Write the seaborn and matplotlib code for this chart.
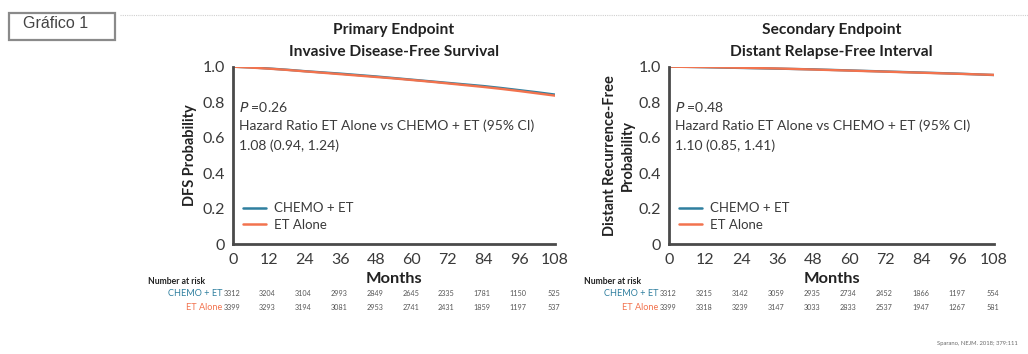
import numpy as np
import pandas as pd
import matplotlib
matplotlib.use("Agg")
import matplotlib.pyplot as plt
import matplotlib.transforms as mtransforms
from matplotlib.patches import Rectangle
from matplotlib.lines import Line2D
import seaborn as sns

# ---- data ----
months = [0, 6, 12, 18, 24, 30, 36, 42, 48, 54, 60, 66, 72, 78, 84, 90, 96, 102, 108]
dfs_chemo = [1.0, 0.996, 0.990, 0.983, 0.975, 0.968, 0.961, 0.953, 0.945, 0.936,
             0.927, 0.918, 0.909, 0.900, 0.891, 0.880, 0.868, 0.856, 0.843]
dfs_et = [1.0, 0.995, 0.989, 0.982, 0.974, 0.966, 0.958, 0.950, 0.942, 0.934,
          0.925, 0.916, 0.906, 0.896, 0.886, 0.875, 0.863, 0.850, 0.837]
drfi_chemo = [1.0, 0.999, 0.997, 0.995, 0.993, 0.991, 0.989, 0.987, 0.985, 0.982,
              0.979, 0.976, 0.973, 0.970, 0.967, 0.964, 0.961, 0.957, 0.953]
drfi_et = [1.0, 0.999, 0.998, 0.996, 0.994, 0.992, 0.990, 0.987, 0.984, 0.981,
           0.978, 0.975, 0.972, 0.969, 0.966, 0.963, 0.960, 0.957, 0.954]

risk_months = [0, 12, 24, 36, 48, 60, 72, 84, 96, 108]
dfs_risk_chemo = [3312, 3204, 3104, 2993, 2849, 2645, 2335, 1781, 1150, 525]
dfs_risk_et = [3399, 3293, 3194, 3081, 2953, 2741, 2431, 1859, 1197, 537]
drfi_risk_chemo = [3312, 3215, 3142, 3059, 2935, 2734, 2452, 1866, 1197, 554]
drfi_risk_et = [3399, 3318, 3239, 3147, 3033, 2833, 2537, 1947, 1267, 581]

y_ticks = [0, 0.2, 0.4, 0.6, 0.8, 1.0]
y_tick_labels = ["0", "0.2", "0.4", "0.6", "0.8", "1.0"]

arms = ["CHEMO + ET", "ET Alone"]
arm_colors = {"CHEMO + ET": "#2f7f9f", "ET Alone": "#f2734e"}

titles = ["Primary Endpoint\nInvasive Disease-Free Survival",
          "Secondary Endpoint\nDistant Relapse-Free Interval"]
ylabels = ["DFS Probability", "Distant Recurrence-Free\nProbability"]
p_texts = ["0.26", "0.48"]
hr_texts = ["1.08 (0.94, 1.24)", "1.10 (0.85, 1.41)"]

# ---- style ----
sns.set_theme(style="white")
plt.rcParams["font.family"] = ["Lato", "DejaVu Sans"]

TEXT = "#3a3a3a"
SPINE = "#4a4a4a"

fig = plt.figure(figsize=(10.28, 3.54), dpi=100)
W, H = 1028, 354


def ax_rect(x0, x1, ytop, ybot):
    return [x0 / W, 1 - ybot / H, (x1 - x0) / W, (ybot - ytop) / H]


axes = [fig.add_axes(ax_rect(233, 555, 66.7, 244.3)),
        fig.add_axes(ax_rect(669, 994, 66.7, 244.3))]

panels = [
    (dfs_chemo, dfs_et, dfs_risk_chemo, dfs_risk_et),
    (drfi_chemo, drfi_et, drfi_risk_chemo, drfi_risk_et),
]
ylabel_pads = [4, 3]

for i, (ax, (c_vals, e_vals, r_c, r_e)) in enumerate(zip(axes, panels)):
    df = pd.DataFrame({
        "month": months + months,
        "prob": c_vals + e_vals,
        "arm": [arms[0]] * len(months) + [arms[1]] * len(months),
    })
    sns.lineplot(data=df, x="month", y="prob", hue="arm", hue_order=arms,
                 palette=arm_colors, linewidth=1.7, ax=ax, legend=False)

    ax.set_xlim(0, 108)
    ax.set_ylim(0, 1.0)
    ax.set_xticks(risk_months)
    ax.set_xticklabels([str(m) for m in risk_months], fontsize=11.5, color=TEXT)
    ax.set_yticks(y_ticks)
    ax.set_yticklabels(y_tick_labels, fontsize=11.5, color=TEXT)
    ax.tick_params(axis="both", direction="out", length=4, width=1.6,
                   color=SPINE, pad=1.5)
    ax.tick_params(axis="x", pad=2)
    for s in ["top", "right"]:
        ax.spines[s].set_visible(False)
    for s in ["left", "bottom"]:
        ax.spines[s].set_color(SPINE)
        ax.spines[s].set_linewidth(2.0)
    ax.spines["left"].set_bounds(0, 1.0)
    ax.spines["bottom"].set_bounds(0, 108)
    ax.set_xlabel("Months", fontsize=11.8, fontweight="bold", color="#222222", labelpad=4)
    ax.set_ylabel(ylabels[i], fontsize=10.5, fontweight="bold", color="#222222",
                  labelpad=ylabel_pads[i], linespacing=1.3)
    ax.set_title(titles[i], fontsize=11.2, fontweight="bold", color="#222222",
                 pad=8, linespacing=1.65)
    ax.grid(False)
    ax.margins(0)

    # statistics
    ax.text(2, 0.773, "$\\it{P}$ =" + p_texts[i], fontsize=10, color=TEXT, va="center")
    ax.text(2, 0.668, "Hazard Ratio ET Alone vs CHEMO + ET (95% CI)", fontsize=10,
            color=TEXT, va="center")
    ax.text(2, 0.557, hr_texts[i], fontsize=10, color=TEXT, va="center")

    # legend
    handles = [Line2D([], [], color=arm_colors[a], lw=1.8) for a in arms]
    ax.legend(handles, arms, loc="lower left", bbox_to_anchor=(0.016, 0.045),
              borderaxespad=0, frameon=False, fontsize=9.5, handlelength=1.7,
              handletextpad=0.6, labelspacing=0.35, labelcolor=TEXT)

    # number at risk table
    trans = mtransforms.blended_transform_factory(ax.transData, fig.transFigure)
    y_head = 1 - 281 / H
    y_c = 1 - 293.5 / H
    y_e = 1 - 307 / H
    x_lab = ax.get_position().x0 - 11 / W
    fig.text(x_lab - 74 / W, y_head, "Number at risk", fontsize=6.2,
             fontweight="bold", color="#222222", va="center", ha="left")
    fig.text(x_lab, y_c, arms[0], fontsize=6.6, color=arm_colors[arms[0]],
             va="center", ha="right")
    fig.text(x_lab, y_e, arms[1], fontsize=6.6, color=arm_colors[arms[1]],
             va="center", ha="right")
    for m, vc, ve in zip(risk_months, r_c, r_e):
        ax.text(m - 0.4, y_c, str(vc), transform=trans, fontsize=5.2, color="#555555",
                ha="center", va="center")
        ax.text(m - 0.4, y_e, str(ve), transform=trans, fontsize=5.2, color="#555555",
                ha="center", va="center")

# figure label box and dotted rule at the top
fig.add_artist(Rectangle((9 / W, 1 - 40 / H), 106 / W, 27 / H, transform=fig.transFigure,
                         facecolor="white", edgecolor="#8a8a8a", linewidth=1.6))
fig.text(23 / W, 1 - 24 / H, "Gráfico 1", fontsize=11.5, color="#444444",
         va="center", ha="left", family=["Liberation Sans", "DejaVu Sans"])
fig.add_artist(Line2D([120 / W, 1.0], [1 - 15 / H, 1 - 15 / H], transform=fig.transFigure,
                      color="#d0d0d0", linewidth=0.8, linestyle=(0, (1, 1))))

fig.text(1018 / W, 1 - 344 / H, "Sparano, NEJM. 2018; 379:111", fontsize=4.2,
         color="#6a6a6a", ha="right", va="center")

fig.savefig("out.png", dpi=100)
